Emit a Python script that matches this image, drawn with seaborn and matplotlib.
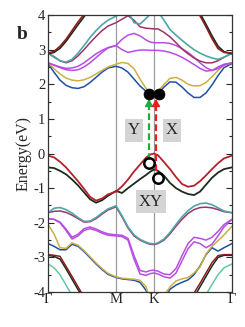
import numpy as np
import pandas as pd
import matplotlib
matplotlib.use("Agg")
import matplotlib.pyplot as plt
import seaborn as sns

# k-path positions (arb. path-length units); high-symmetry points
K_PATH = [0, 6, 12, 18, 24, 30, 36, 42, 48, 54, 60, 68, 74, 80, 86, 92, 98,
          102, 106, 110, 116, 122, 128, 134, 140, 146, 152, 158, 164, 170, 176, 184]
TICK_POS = [0, 68, 106, 184]
TICK_LABELS = ["Γ", "M", "K", "Γ"]

# conduction bands (eV)
cb_blue = [2.60, 2.35, 2.12, 1.97, 1.90, 1.88, 1.93, 2.05, 2.20, 2.35, 2.47, 2.52, 2.47, 2.35, 2.15, 1.95,
           1.80, 1.73, 1.72, 1.75, 1.92, 2.07, 2.06, 1.92, 1.75, 1.62, 1.62, 1.75, 1.98, 2.25, 2.48, 2.60]
cb_yellow = [2.62, 2.45, 2.30, 2.18, 2.12, 2.10, 2.13, 2.20, 2.30, 2.40, 2.50, 2.58, 2.63, 2.60, 2.45, 2.15,
             1.88, 1.77, 1.74, 1.80, 2.00, 2.17, 2.20, 2.12, 2.00, 1.95, 1.96, 2.05, 2.22, 2.40, 2.55, 2.62]
cb_purple_lo = [2.62, 2.55, 2.48, 2.42, 2.40, 2.42, 2.50, 2.62, 2.77, 2.92, 3.05, 3.12, 3.00, 2.92, 2.96, 2.99,
                2.99, 2.98, 2.98, 2.98, 2.96, 2.92, 2.86, 2.78, 2.68, 2.57, 2.46, 2.38, 2.40, 2.50, 2.58, 2.62]
cb_purple_hi = [2.62, 2.56, 2.50, 2.46, 2.47, 2.52, 2.62, 2.75, 2.88, 2.98, 3.06, 3.12, 3.30, 3.42, 3.47, 3.40,
                3.28, 3.22, 3.20, 3.20, 3.20, 3.18, 3.12, 3.03, 2.92, 2.78, 2.62, 2.48, 2.40, 2.45, 2.55, 2.62]
cb_maroon = [2.90, 2.80, 2.68, 2.62, 2.68, 2.82, 3.00, 3.20, 3.38, 3.55, 3.68, 3.78, 3.88, 3.98, 3.85, 3.66,
             3.62, 3.61, 3.60, 3.60, 3.50, 3.37, 3.20, 3.02, 2.88, 2.76, 2.67, 2.62, 2.62, 2.68, 2.78, 2.90]
cb_teal = [2.90, 2.78, 2.68, 2.64, 2.72, 2.90, 3.12, 3.35, 3.55, 3.72, 3.85, 3.97, 4.05, 4.10, 3.78, 3.74,
           3.90, 4.02, 4.10, 4.10, 3.85, 3.58, 3.42, 3.27, 3.13, 3.00, 2.90, 2.82, 2.76, 2.72, 2.78, 2.90]
cb_red_left = [2.90, 2.95, 3.10, 3.30, 3.55, 3.80, 4.02, 4.25, 4.45]
cb_black_left = [2.88, 2.92, 3.04, 3.24, 3.48, 3.72, 3.95, 4.18, 4.40]
cb_red_right = [4.30, 3.98, 3.66, 3.32, 3.03, 2.92, 2.90]
cb_black_right = [4.36, 4.05, 3.73, 3.40, 3.10, 2.94, 2.88]

# valence bands (eV)
vb_red = [-0.06, -0.11, -0.24, -0.40, -0.60, -0.80, -1.02, -1.25, -1.36, -1.30, -1.18, -1.10, -0.95, -0.75,
          -0.52, -0.32, -0.12, -0.03, 0.00, -0.05, -0.25, -0.45, -0.68, -0.88, -0.96, -0.93, -0.80, -0.63,
          -0.45, -0.28, -0.14, -0.06]
vb_black = [-0.40, -0.42, -0.50, -0.60, -0.75, -0.92, -1.12, -1.32, -1.42, -1.35, -1.22, -1.08, -1.14, -1.00,
            -0.87, -0.74, -0.62, -0.53, -0.46, -0.50, -0.64, -0.85, -1.00, -1.10, -1.17, -1.20, -1.10, -0.90,
            -0.70, -0.55, -0.45, -0.40]
vb_teal = [-1.71, -1.58, -1.56, -1.62, -1.72, -1.85, -1.96, -1.95, -1.85, -1.72, -1.60, -1.51, -1.80, -2.12,
           -2.35, -2.48, -2.56, -2.60, -2.61, -2.58, -2.47, -2.28, -2.05, -1.83, -1.65, -1.52, -1.45, -1.43,
           -1.48, -1.57, -1.66, -1.71]
vb_maroon = [-1.71, -1.67, -1.66, -1.70, -1.78, -1.88, -1.98, -1.97, -1.88, -1.75, -1.63, -1.54, -1.83, -2.15,
             -2.38, -2.50, -2.58, -2.62, -2.63, -2.60, -2.50, -2.32, -2.10, -1.90, -1.73, -1.62, -1.56, -1.55,
             -1.57, -1.62, -1.68, -1.71]
vb_purple_hi = [-1.88, -1.90, -1.98, -2.18, -2.42, -2.33, -2.17, -2.12, -2.18, -2.26, -2.32, -2.35, -2.36,
                -2.45, -2.95, -3.38, -3.42, -3.38, -3.37, -3.40, -3.48, -3.50, -3.32, -2.95, -2.60, -2.42,
                -2.45, -2.50, -2.42, -2.25, -2.05, -1.90]
vb_purple_lo = [-1.88, -1.90, -2.00, -2.22, -2.47, -2.38, -2.22, -2.17, -2.22, -2.30, -2.36, -2.38, -2.40,
                -2.50, -3.05, -3.48, -3.52, -3.47, -3.45, -3.48, -3.56, -3.60, -3.45, -3.10, -2.75, -2.55,
                -2.60, -2.72, -2.62, -2.38, -2.12, -1.90]
vb_yellow = [-2.05, -2.32, -2.72, -2.74, -2.58, -2.65, -2.80, -2.98, -3.16, -3.32, -3.46, -3.56, -3.60, -3.62,
             -3.63, -3.66, -3.85, -4.20, -4.40, -4.40, -4.10, -3.85, -3.68, -3.62, -3.58, -3.45, -3.28, -2.90,
             -2.68, -2.52, -2.35, -2.10]
vb_blue = [-2.60, -2.68, -2.78, -2.78, -2.62, -2.68, -2.83, -3.01, -3.19, -3.35, -3.49, -3.58, -3.62, -3.64,
           -3.66, -3.72, -3.95, -4.30, -4.45, -4.45, -4.20, -3.92, -3.80, -3.72, -3.65, -3.50, -3.25, -2.92,
           -2.72, -2.82, -2.72, -2.60]
vb_red_left = [-2.92, -2.94, -2.97, -3.26, -3.55, -3.85, -4.15, -4.45, -4.75]
vb_black_left = [-2.94, -2.97, -3.05, -3.33, -3.63, -3.93, -4.22, -4.50, -4.80]
vb_green_left = [-3.19, -3.30, -3.50, -3.80, -4.10, -4.40]
vb_red_right = [-4.35, -4.03, -3.75, -3.45, -3.15, -2.95, -2.92, -2.92]
vb_black_right = [-4.45, -4.15, -3.85, -3.55, -3.25, -3.00, -2.94, -2.94]
vb_green_right = [-4.40, -4.08, -3.78, -3.50, -3.30, -3.19]

# transition markers / labels
cbm_k = [101, 111]
cbm_e = [1.71, 1.72]
vbm_k = [101, 110]
vbm_e = [-0.26, -0.70]
arrow_y = dict(k=101, e0=-0.20, e1=1.58)
arrow_x = dict(k=108, e0=-0.50, e1=1.58)
labels = [("Y", 86, 0.67), ("X", 124, 0.67), ("XY", 103, -1.39)]

C_RED = "#b3222a"
C_DRED = "#8e1c1c"
C_BLK = "#1b2b1b"
C_TEAL = "#4ea6a8"
C_MAR = "#9c3466"
C_VIO = "#b84ee2"
C_YEL = "#cdb042"
C_BLU = "#1f4fa6"
C_GRN = "#62c9a2"

series = [
    ("cb_blue", K_PATH, cb_blue, C_BLU, 1.1),
    ("cb_yellow", K_PATH, cb_yellow, C_YEL, 1.1),
    ("cb_purple_lo", K_PATH, cb_purple_lo, C_VIO, 1.1),
    ("cb_purple_hi", K_PATH, cb_purple_hi, C_VIO, 1.1),
    ("cb_maroon", K_PATH, cb_maroon, C_MAR, 1.1),
    ("cb_teal", K_PATH, cb_teal, C_TEAL, 1.2),
    ("cb_black_left", K_PATH[:9], cb_black_left, C_BLK, 1.2),
    ("cb_red_left", K_PATH[:9], cb_red_left, C_DRED, 1.2),
    ("cb_black_right", K_PATH[25:], cb_black_right, C_BLK, 1.2),
    ("cb_red_right", K_PATH[25:], cb_red_right, C_DRED, 1.2),
    ("vb_green_left", K_PATH[:6], vb_green_left, C_GRN, 1.1),
    ("vb_green_right", K_PATH[26:], vb_green_right, C_GRN, 1.1),
    ("vb_black_left", K_PATH[:9], vb_black_left, C_BLK, 1.1),
    ("vb_red_left", K_PATH[:9], vb_red_left, C_DRED, 1.1),
    ("vb_black_right", K_PATH[24:], vb_black_right, C_BLK, 1.1),
    ("vb_red_right", K_PATH[24:], vb_red_right, C_DRED, 1.1),
    ("vb_blue", K_PATH, vb_blue, C_BLU, 1.1),
    ("vb_yellow", K_PATH, vb_yellow, C_YEL, 1.1),
    ("vb_purple_lo", K_PATH, vb_purple_lo, C_VIO, 1.1),
    ("vb_purple_hi", K_PATH, vb_purple_hi, C_VIO, 1.1),
    ("vb_maroon", K_PATH, vb_maroon, C_MAR, 1.1),
    ("vb_teal", K_PATH, vb_teal, C_TEAL, 1.2),
    ("vb_black", K_PATH, vb_black, C_BLK, 1.3),
    ("vb_red", K_PATH, vb_red, C_RED, 1.3),
]

sns.set_theme(style="ticks")
plt.rcParams["font.family"] = ["Liberation Serif", "DejaVu Serif"]
plt.rcParams["axes.unicode_minus"] = False

fig = plt.figure(figsize=(2.45, 3.27), dpi=100)
ax = fig.add_axes([0.196, 0.107, 0.751, 0.847])

for x in TICK_POS[1:3]:
    ax.axvline(x, color="#9a9a9a", lw=0.9, zorder=1)

for name, ks, es, col, lw in series:
    df = pd.DataFrame({"k": ks, "E": es})
    sns.lineplot(data=df, x="k", y="E", ax=ax, color=col, lw=lw,
                 estimator=None, sort=False, legend=False, zorder=2)

# transition arrows
for arr, col in ((arrow_y, "#1fae3c"), (arrow_x, "#ee1c1c")):
    ax.plot([arr["k"], arr["k"]], [arr["e0"], arr["e1"] - 0.08], color=col, lw=1.6,
            dashes=(3, 1.5), zorder=4)
    ax.annotate("", xy=(arr["k"], arr["e1"]), xytext=(arr["k"], arr["e1"] - 0.16),
                arrowprops=dict(arrowstyle="-|>,head_width=0.25,head_length=0.45",
                                color=col, lw=1.0, shrinkA=0, shrinkB=0,
                                mutation_scale=10), zorder=4)

sns.scatterplot(x=cbm_k, y=cbm_e, ax=ax, color="black", s=62, edgecolor="black",
                linewidth=0.5, zorder=6, legend=False)
ax.plot(vbm_k, vbm_e, ls="none", marker="o", ms=7.5, mfc="none", mec="black",
        mew=1.8, zorder=6)

for txt, kx, ey in labels:
    ax.text(kx, ey, txt, ha="center", va="center", fontsize=12, zorder=7,
            bbox=dict(boxstyle="square,pad=0.2", fc="#d4d4d4", ec="none"))

ax.set_xlim(TICK_POS[0], TICK_POS[-1])
ax.set_ylim(-4, 4)
ax.set_xticks(TICK_POS)
ax.set_xticklabels(TICK_LABELS)
ax.set_yticks(np.arange(-4, 5, 1))
ax.set_yticklabels([str(v) for v in range(-4, 5)])
ax.set_yticks(np.arange(-3.5, 4, 1), minor=True)
ax.tick_params(axis="x", length=0, labelsize=10.5, pad=1)
ax.tick_params(axis="y", which="major", direction="in", length=4, width=0.8,
               left=True, right=True, labelsize=10.5, pad=2)
ax.tick_params(axis="y", which="minor", direction="in", length=2.5, width=0.8,
               left=True, right=True)
for s in ax.spines.values():
    s.set_color("#333333")
    s.set_linewidth(0.9)
ax.set_xlabel("")
ax.set_ylabel("Energy(eV)", fontsize=11.5, labelpad=1)

fig.text(0.09, 0.895, "b", fontsize=14, fontweight="bold", ha="center", va="center")

fig.savefig("out.png", dpi=100)
